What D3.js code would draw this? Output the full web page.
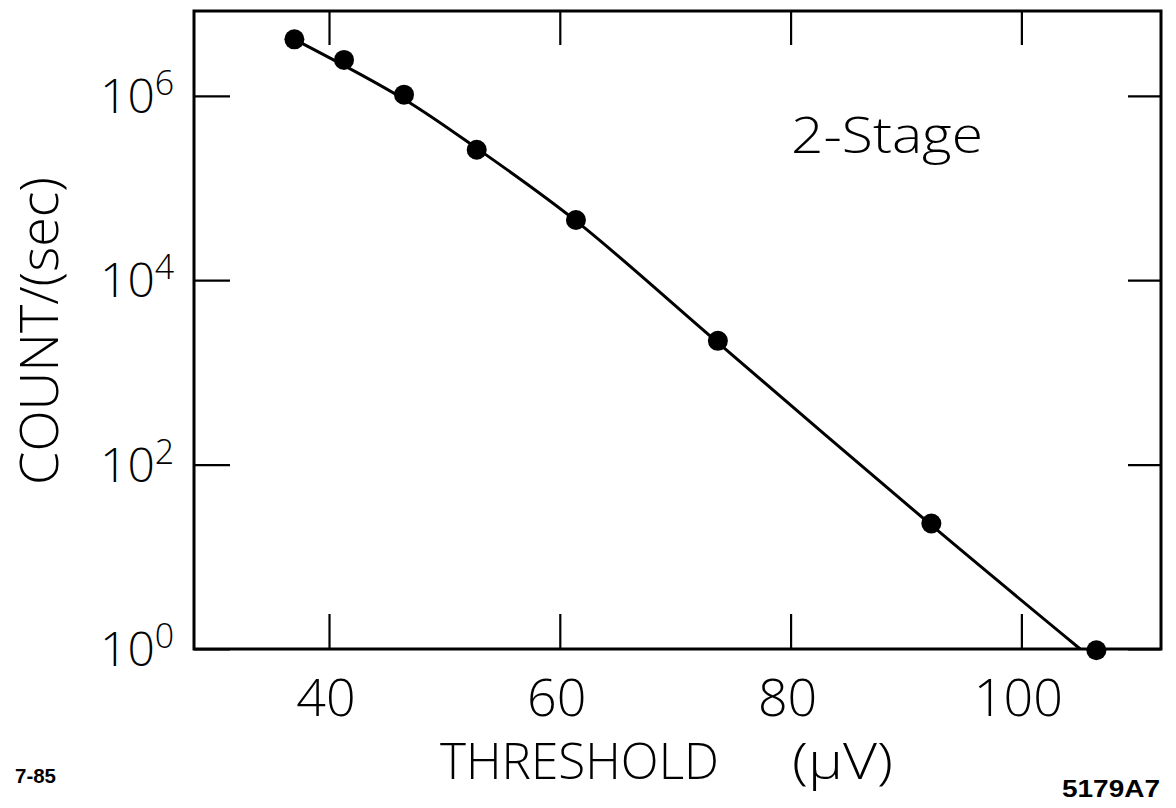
<!DOCTYPE html>
<html>
<head>
<meta charset="utf-8">
<script src="https://cdn.jsdelivr.net/npm/d3@7/dist/d3.min.js"></script>
<style>
  html, body { margin: 0; padding: 0; background: #fff; }
  svg { display: block; }
  text { font-family: "Open Sans", "DejaVu Sans", sans-serif; font-weight: 300; fill: #000; }
</style>
</head>
<body>
<svg id="chart" width="1176" height="808"></svg>
<script>
// ---- data ----
const xTicks = [40, 60, 80, 100];
const yTicks = [1, 1e2, 1e4, 1e6];
const yTickExponents = ["0", "2", "4", "6"];
const threshold = [37.0, 41.3, 46.5, 52.8, 61.4, 73.7, 92.2, 106.5];
const counts = [4.1e6, 2.45e6, 1.03e6, 2.6e5, 4.5e4, 2.2e3, 23, 0.97];
const fitThreshold = [37.0, 46.5, 52.8, 61.4, 73.7, 92.2, 105.1];
const fitCounts = [4.1e6, 9.2e5, 2.7e5, 4.4e4, 2.1e3, 22, 1.0];
const xTitle = "THRESHOLD";
const xUnit = "(\u03bcV)";
const yTitle = "COUNT/(sec)";
const seriesLabel = "2-Stage";
const dateLabel = "7-85";
const figLabel = "5179A7";

// ---- scales ----
const svg = d3.select("#chart");
const mL = 194, mR = 1161, mT = 11, mB = 649;
const x = d3.scaleLinear().domain([28.3, 112.1]).range([mL, mR]);
const y = d3.scaleLog().domain([1, Math.pow(10, 6.92)]).range([mB, mT]);

// ---- frame ----
svg.append("rect")
  .attr("x", mL).attr("y", mT)
  .attr("width", mR - mL).attr("height", mB - mT)
  .attr("fill", "none").attr("stroke", "#000").attr("stroke-width", 3);

// ---- axes (inward ticks) ----
function styleAxis(g) {
  g.select(".domain").remove();
  g.selectAll(".tick line").attr("stroke", "#000").attr("stroke-width", 2.2);
  g.selectAll(".tick text").remove();
}
svg.append("g").attr("transform", `translate(0,${mB})`)
  .call(d3.axisBottom(x).tickValues(xTicks).tickSizeInner(-35).tickSizeOuter(0)).call(styleAxis);
svg.append("g").attr("transform", `translate(0,${mT})`)
  .call(d3.axisTop(x).tickValues(xTicks).tickSizeInner(-34).tickSizeOuter(0)).call(styleAxis);
svg.append("g").attr("transform", `translate(${mL},0)`)
  .call(d3.axisLeft(y).tickValues(yTicks).tickSizeInner(-36).tickSizeOuter(0)).call(styleAxis);
svg.append("g").attr("transform", `translate(${mR},0)`)
  .call(d3.axisRight(y).tickValues(yTicks).tickSizeInner(-33).tickSizeOuter(0)).call(styleAxis);

// ---- tick labels ----
svg.append("g").selectAll("text").data(xTicks).join("text")
  .attr("x", d => x(d) - 3)
  .attr("y", 716)
  .attr("text-anchor", "middle")
  .attr("font-size", 52)
  .text(d => d);

const yl = svg.append("g").selectAll("text").data(yTicks).join("text")
  .attr("x", 100)
  .attr("y", d => y(d) + 17)
  .attr("font-size", 48);
yl.append("tspan").text("10");
yl.append("tspan").attr("dy", -18).attr("font-size", 34).text((d, i) => yTickExponents[i]);

// ---- titles ----
svg.append("text").attr("x", 440).attr("y", 779)
  .attr("font-size", 50)
  .attr("textLength", 279).attr("lengthAdjust", "spacingAndGlyphs")
  .text(xTitle);
svg.append("text").attr("x", 792).attr("y", 779)
  .attr("font-size", 50)
  .attr("textLength", 101).attr("lengthAdjust", "spacingAndGlyphs")
  .text(xUnit);

svg.append("text")
  .attr("transform", "translate(58,485) rotate(-90)")
  .attr("font-size", 54)
  .attr("textLength", 308).attr("lengthAdjust", "spacingAndGlyphs")
  .text(yTitle);

svg.append("text").attr("x", 791).attr("y", 153)
  .attr("font-size", 50)
  .attr("textLength", 192).attr("lengthAdjust", "spacingAndGlyphs")
  .text(seriesLabel);

svg.append("text").attr("x", 15).attr("y", 783)
  .style("font-family", "Liberation Sans, Arial, sans-serif").style("font-weight", 700)
  .attr("font-size", 21)
  .attr("textLength", 41).attr("lengthAdjust", "spacingAndGlyphs")
  .text(dateLabel);
svg.append("text").attr("x", 1062).attr("y", 797)
  .style("font-family", "Liberation Sans, Arial, sans-serif").style("font-weight", 700)
  .attr("font-size", 24)
  .attr("textLength", 98).attr("lengthAdjust", "spacingAndGlyphs")
  .text(figLabel);

// ---- fit line ----
const fit = fitThreshold.map((t, i) => [t, fitCounts[i]]);
svg.append("path").datum(fit)
  .attr("fill", "none").attr("stroke", "#000").attr("stroke-width", 3)
  .attr("d", d3.line().x(d => x(d[0])).y(d => y(d[1])).curve(d3.curveCatmullRom.alpha(0.5)));

// ---- points ----
svg.append("g").selectAll("circle").data(threshold.map((t, i) => [t, counts[i]])).join("circle")
  .attr("cx", d => x(d[0])).attr("cy", d => y(d[1])).attr("r", 10).attr("fill", "#000");
</script>
</body>
</html>
